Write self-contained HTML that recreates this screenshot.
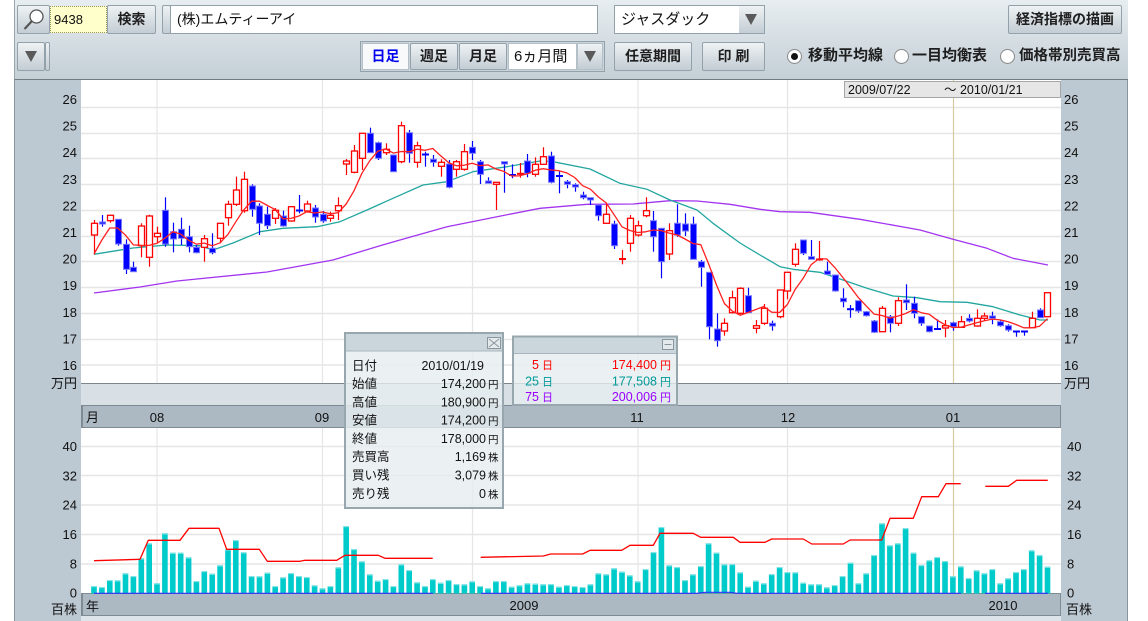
<!DOCTYPE html>
<html><head><meta charset="utf-8">
<style>
html,body{margin:0;padding:0;background:#fff;width:1148px;height:621px;overflow:hidden;position:relative;font-family:"Liberation Sans","Noto Sans CJK JP",sans-serif;}
.a{position:absolute;box-sizing:border-box;}
.btn{position:absolute;box-sizing:border-box;height:29px;border:1px solid #93a1aa;border-radius:2px;background:linear-gradient(#eef2f4,#c3cdd4);font-weight:bold;font-size:14px;color:#1e1e1e;text-align:center;line-height:27px;white-space:nowrap;}
.tri{position:absolute;width:0;height:0;border-left:6px solid transparent;border-right:6px solid transparent;border-top:11px solid #5a5a5a;}
.rad{position:absolute;width:15px;height:15px;border-radius:50%;box-sizing:border-box;border:1px solid #8a8a8a;background:radial-gradient(circle at 50% 40%,#fff 55%,#d8dde0);}
.rl{position:absolute;font-weight:bold;font-size:15px;color:#1e1e1e;line-height:20px;white-space:nowrap;}
</style></head><body>
<div class="a" style="left:14px;top:0;width:1114px;height:80px;background:linear-gradient(#e7edf0,#c4cfd6);border-left:1px solid #9aa6ae;border-bottom:1px solid #6f7b83;"></div>

<div class="btn" style="left:17px;top:5px;width:33px;"><svg width="31" height="27" style="position:absolute;left:0;top:0"><circle cx="18.5" cy="10.5" r="6.5" fill="#fff" stroke="#555" stroke-width="1.3"/><line x1="14" y1="15" x2="6.5" y2="23" stroke="#555" stroke-width="2.2"/></svg></div>
<div class="a" style="left:50px;top:6px;width:57px;height:27px;background:#ffffcc;border:1px dotted #9a9a60;font-size:13px;line-height:25px;padding-left:3px;color:#111;">9438</div>
<div class="btn" style="left:107px;top:5px;width:49px;">検索</div>
<div class="btn" style="left:162px;top:5px;width:9px;"></div>
<div class="a" style="left:170px;top:5px;width:428px;height:29px;background:#fff;border:1px solid #93a1aa;font-size:14px;line-height:27px;padding-left:6px;color:#111;">(株)エムティーアイ</div>

<div class="a" style="left:614px;top:5px;width:151px;height:29px;border:1px solid #93a1aa;background:#fff;"></div>
<div class="a" style="left:615px;top:6px;width:124px;height:27px;font-size:15px;line-height:27px;padding-left:6px;color:#111;">ジャスダック</div>
<div class="a" style="left:739px;top:6px;width:25px;height:27px;background:linear-gradient(#eef2f4,#c3cdd4);"><div class="tri" style="left:6px;top:8px;"></div></div>

<div class="btn" style="left:1008px;top:5px;width:114px;">経済指標の描画</div>

<div class="btn" style="left:17px;top:42px;width:28px;"><div class="tri" style="left:7px;top:8px;"></div></div>
<div class="btn" style="left:45px;top:42px;width:5px;"></div>

<div class="a" style="left:360px;top:41px;width:245px;height:31px;border:1px solid #93a1aa;background:#c9d3d9;"></div>
<div class="a" style="left:362px;top:43px;width:47px;height:27px;background:#f7f9fa;border:1px solid #b4c0c8;color:#0000ee;font-weight:bold;font-size:14px;line-height:25px;text-align:center;">日足</div>
<div class="btn" style="left:410px;top:43px;width:48px;height:27px;line-height:25px;">週足</div>
<div class="btn" style="left:459px;top:43px;width:48px;height:27px;line-height:25px;">月足</div>
<div class="a" style="left:508px;top:43px;width:69px;height:27px;background:#fff;border:1px solid #b4c0c8;font-size:15px;line-height:25px;padding-left:5px;color:#111;">6ヵ月間</div>
<div class="a" style="left:577px;top:43px;width:26px;height:27px;background:linear-gradient(#eef2f4,#c3cdd4);border:1px solid #b4c0c8;"><div class="tri" style="left:6px;top:7px;"></div></div>

<div class="btn" style="left:614px;top:42px;width:78px;">任意期間</div>
<div class="btn" style="left:702px;top:42px;width:63px;">印 刷</div>

<div class="rad" style="left:787px;top:49px;"><div style="position:absolute;left:3px;top:3px;width:7px;height:7px;border-radius:50%;background:#111;"></div></div>
<div class="rl" style="left:808px;top:46px;">移動平均線</div>
<div class="rad" style="left:894px;top:49px;"></div>
<div class="rl" style="left:912px;top:46px;">一目均衡表</div>
<div class="rad" style="left:1000px;top:49px;"></div>
<div class="rl" style="left:1019px;top:46px;font-size:14.5px;">価格帯別売買高</div>

<svg width="1148" height="621" style="position:absolute;left:0;top:0" font-family="'Liberation Sans','Noto Sans CJK JP',sans-serif">
<rect x="14" y="80" width="67" height="541" fill="#bdc9d2"/>
<line x1="14.5" y1="80" x2="14.5" y2="621" stroke="#8a969e"/>
<rect x="1061" y="80" width="67" height="541" fill="#bdc9d2"/>
<line x1="1127.5" y1="80" x2="1127.5" y2="621" stroke="#8a969e"/>
<rect x="81" y="80" width="980" height="303" fill="#fff"/>
<rect x="81" y="383" width="980" height="23" fill="#d8e0e6"/>
<line x1="81" y1="383.5" x2="1061" y2="383.5" stroke="#7d868c"/>
<rect x="81.5" y="405.5" width="979" height="22" fill="#acb9c3" stroke="#7f8b93"/>
<line x1="82" y1="406" x2="82" y2="427" stroke="#7f8b93" stroke-width="2"/>
<rect x="81" y="428" width="980" height="165.5" fill="#fff"/>
<rect x="81.5" y="593.5" width="979" height="22" fill="#acb9c3" stroke="#7f8b93"/>
<line x1="82" y1="594" x2="82" y2="615" stroke="#7f8b93" stroke-width="2"/>
<rect x="81" y="616" width="980" height="5" fill="#dde5ea"/>

<path d="M81 107.5H1061M81 133.5H1061M81 158.5H1061M81 184.5H1061M81 210.5H1061M81 236.5H1061M81 261.5H1061M81 287.5H1061M81 313.5H1061M81 339.5H1061M81 365H1061M81 446.5H1061M81 475.5H1061M81 505H1061M81 534.5H1061M81 564H1061" stroke="#e6e6e6" stroke-width="1.5" fill="none"/>
<path d="M157 80V383M322.5 80V383M472.5 80V383M638 80V383M787.5 80V383M157 428V593M322.5 428V593M472.5 428V593M638 428V593M787.5 428V593" stroke="#e6e6e6" stroke-width="1.2" fill="none"/>
<path d="M953.5 80V383M953.5 428V593" stroke="#d6cba0" stroke-width="1.2" fill="none"/>

<g id="dyn"></g>

<rect x="844.5" y="81.5" width="216" height="16" fill="#e6e6e6" stroke="#a6a6a6"/>
<text x="848" y="94" font-size="12.5" fill="#111">2009/07/22</text>
<text x="944" y="94" font-size="12.5" fill="#111">～ 2010/01/21</text>

<g font-size="13" fill="#111" text-anchor="end">
<text x="77" y="104">26</text><text x="77" y="130.6">25</text><text x="77" y="157.2">24</text><text x="77" y="183.8">23</text><text x="77" y="210.4">22</text><text x="77" y="237">21</text><text x="77" y="263.6">20</text><text x="77" y="290.2">19</text><text x="77" y="316.8">18</text><text x="77" y="343.4">17</text><text x="77" y="370">16</text>
<text x="77" y="388">万円</text>
<text x="77" y="451">40</text><text x="77" y="480.3">32</text><text x="77" y="509.6">24</text><text x="77" y="539">16</text><text x="77" y="568.3">8</text><text x="77" y="597.7">0</text>
<text x="77" y="614">百株</text>
</g>
<g font-size="13" fill="#111">
<text x="1064" y="104">26</text><text x="1064" y="130.6">25</text><text x="1064" y="157.2">24</text><text x="1064" y="183.8">23</text><text x="1064" y="210.4">22</text><text x="1064" y="237">21</text><text x="1064" y="263.6">20</text><text x="1064" y="290.2">19</text><text x="1064" y="316.8">18</text><text x="1064" y="343.4">17</text><text x="1064" y="370">16</text>
<text x="1064" y="388">万円</text>
<text x="1067" y="451">40</text><text x="1067" y="480.3">32</text><text x="1067" y="509.6">24</text><text x="1067" y="539">16</text><text x="1067" y="568.3">8</text><text x="1067" y="597.7">0</text>
<text x="1066" y="614">百株</text>
</g>
<g font-size="13" fill="#111">
<text x="86" y="422">月</text>
<text x="157" y="422" text-anchor="middle">08</text>
<text x="322" y="422" text-anchor="middle">09</text>
<text x="637" y="422" text-anchor="middle">11</text>
<text x="788" y="422" text-anchor="middle">12</text>
<text x="953" y="422" text-anchor="middle">01</text>
<text x="86" y="611">年</text>
<text x="524" y="610" text-anchor="middle">2009</text>
<text x="1003" y="610" text-anchor="middle">2010</text>
</g>

<!-- tooltip 1 -->
<rect x="345" y="333" width="158" height="175" fill="rgba(230,237,240,0.8)" stroke="#98a6ae" stroke-width="2"/>
<rect x="346" y="334" width="156" height="17" fill="rgba(200,211,217,0.9)"/>
<line x1="346" y1="351" x2="502" y2="351" stroke="#aab6bd"/>
<rect x="487.5" y="337.5" width="13" height="11" fill="#e4e9ec" stroke="#8a969e"/>
<path d="M489 339L499 347M499 339L489 347" stroke="#8a969e"/>
<g font-size="12.5" fill="#111">
<text x="352" y="370.2">日付</text><text x="352" y="387.8">始値</text><text x="352" y="406.5">高値</text><text x="352" y="424.5">安値</text><text x="352" y="442.8">終値</text><text x="352" y="461.2">売買高</text><text x="352" y="479.5">買い残</text><text x="352" y="497.8">売り残</text>
</g>
<g font-size="12.5" fill="#111" text-anchor="end">
<text x="484" y="370.2">2010/01/19</text>
<text x="486" y="387.8">174,200</text><text x="486" y="406.5">180,900</text><text x="486" y="424.5">174,200</text><text x="486" y="442.8">178,000</text>
<text x="486" y="461.2">1,169</text><text x="486" y="479.5">3,079</text><text x="486" y="497.8">0</text>
</g>
<g font-size="10.5" fill="#111">
<text x="488" y="387.8">円</text><text x="488" y="406.5">円</text><text x="488" y="424.5">円</text><text x="488" y="442.8">円</text>
<text x="488" y="461.2">株</text><text x="488" y="479.5">株</text><text x="488" y="497.8">株</text>
</g>

<!-- tooltip 2 -->
<rect x="513" y="336.5" width="164" height="68.5" fill="rgba(230,237,240,0.8)" stroke="#98a6ae" stroke-width="2"/>
<rect x="514" y="337.5" width="162" height="16" fill="rgba(200,211,217,0.9)"/>
<line x1="514" y1="353.5" x2="676" y2="353.5" stroke="#aab6bd"/>
<rect x="662.5" y="339.5" width="11" height="10" fill="#e4e9ec" stroke="#8a969e"/>
<line x1="664.5" y1="344.5" x2="671.5" y2="344.5" stroke="#8a969e"/>
<g font-size="12.5" text-anchor="end">
<text x="539" y="368.8" fill="#ff0000">5</text><text x="539" y="385.5" fill="#009999">25</text><text x="539" y="401.2" fill="#9900ff">75</text>
<text x="657" y="368.8" fill="#ff0000">174,400</text><text x="657" y="385.5" fill="#009999">177,508</text><text x="657" y="401.2" fill="#9900ff">200,006</text>
</g>
<g font-size="11">
<text x="542" y="368.8" fill="#ff0000">日</text><text x="542" y="385.5" fill="#009999">日</text><text x="542" y="401.2" fill="#9900ff">日</text>
<text x="660" y="368.8" fill="#ff0000">円</text><text x="660" y="385.5" fill="#009999">円</text><text x="660" y="401.2" fill="#9900ff">円</text>
</g>
</svg>

<script>
(function(){
const NS='http://www.w3.org/2000/svg';
const g=document.getElementById('dyn');
function el(t,a){const e=document.createElementNS(NS,t);for(const k in a)e.setAttribute(k,a[k]);g.appendChild(e);return e;}
const X=i=>94+7.88*i;
const C=[
[1,223.3,235,220,254.3],[0,222,224,215,226.7],[1,215.3,220.7,214.7,222.7],[0,219.3,244,219.3,245.7],[0,244.3,269.3,239.3,274],
[0,267.3,271.7,261.7,271.7],[1,226,245.7,223.3,257.3],[1,216,257.3,214.7,266.7],[1,233.3,236.7,226.7,242.7],[0,210.3,244,197.3,246.7],
[0,231.7,239,222.7,252.3],[0,229.3,238.3,217.7,245],[0,236.7,246.7,225.7,252.3],[0,247.3,252.7,245,253.3],[1,238.7,247.3,235,261.7],
[0,248.3,252.7,233.3,254.3],[1,223.3,238.3,223.3,243.3],[1,204.3,217.7,200.7,225.7],[1,190,204.3,176.7,206],[1,179.3,210.7,171.7,212.7],
[0,186,209.3,184.3,216.7],[0,206,223.3,203.3,235],[0,214.3,225.7,206.7,229],[1,210.3,218.3,208,224],[0,216,226,210.7,226.7],
[1,206.7,221,206,221.7],[0,210,211.5,195,213.3],[1,204,211,200.7,212.7],[0,208,217,205,222.7],[0,214.3,221,211,222.7],
[1,215.3,218.3,211.7,221.7],[1,205.7,210.7,197.3,220],[1,161,164,159,175],[1,151,172.3,145,173.3],[1,133.3,158.3,133.3,170],
[0,133.3,152.7,127.7,152.7],[0,142.7,158.3,141.7,160],[1,149.3,152.7,143.3,155],[0,155,171.7,155,171.7],[1,125.7,161.7,121.7,163.3],
[0,132.7,153.3,130,162.7],[1,145.7,162.3,141.7,167.7],[0,154,155.3,151.7,166.7],[0,159.3,162.3,155,166.7],[1,162.3,166.3,159.3,176.7],
[0,164,187.3,160,188.3],[1,161.7,169.3,160,176.7],[1,151.7,169.3,144,170.7],[0,147.3,153.3,141,160],[0,161.7,174.3,160,184],
[0,181,183.3,177.3,183.3],[1,182.3,184.3,182.3,210],[0,161.7,164,161.7,192.7],[0,174.5,176,164.3,178.3],[1,173.3,175,163,177.7],
[0,161,173.3,154,177.3],[1,164.3,174.3,157.3,176.7],[1,156.7,164.3,147.3,165],[0,156,182.3,151.7,183.3],[0,175.5,177,171,193.3],
[0,181.7,184.3,180,188.3],[0,184.7,187,183.3,191.7],[0,195,197.7,191.7,199.3],[0,197.7,200,197.7,205],[0,205,215.7,205,220.7],
[1,214.3,223.3,204.3,223.3],[0,224,245.7,220.7,249],[1,258.5,260,250,264.3],[1,218.3,243.3,215,251.7],[1,225.7,235,220.7,236.7],
[1,210.7,215.7,197.3,217.3],[0,220.7,236.7,211,251.7],[0,228.3,261.7,228.3,278.3],[1,230.7,254,223.3,260],[0,223.3,235,204.3,236.7],
[0,224,231,213.3,236],[0,224,259.3,216.7,259.3],[0,261.7,267.3,260,286.7],[0,272.3,326.7,272.3,339.3],[0,329,340.7,313.3,346.7],
[1,323.3,331,318.3,335.7],[1,297.7,312.7,290.7,313.3],[1,288.3,313.3,287.3,314.3],[0,295.7,312.7,287.7,312.7],[1,325.7,328.3,320,333.3],
[1,308.3,323.3,304,325],[0,323.3,326,320.7,330.7],[1,290,316.7,290,318.3],[1,272.3,291,272.3,299.3],[1,249.3,264.3,243.3,266.7],
[0,240,253.3,240,255],[0,256.7,259.3,240,259.3],[1,259,260.7,241,260.7],[0,271,274.3,261.7,275],[0,275,291,275,291.7],
[0,298.3,301.7,288.3,307.3],[0,308.7,310,305,317.7],[0,300.7,311,300.7,312.7],[0,311.7,315.7,311,316.5],[0,321,332.3,320,333],
[1,308.3,331.7,306,331.7],[0,316.7,323.3,315,332.3],[1,300.7,323.3,297.3,326],[0,300,302.7,284.3,310],[0,303.3,313.3,296.7,318.3],
[0,316.7,323.3,316.7,325.7],[0,326,331.7,325.7,332.3],[0,328.5,330,319.3,330],[1,325.7,328,320,337.3],[0,322.7,326.7,321.7,330.7],
[1,321.7,327.3,316,327.3],[0,318.3,321,314.3,322.3],[1,318.3,326,309.3,326.7],[1,316,318.3,312.7,321],[0,316,318.3,311.7,324.3],
[0,321.7,325.7,320,326.7],[0,325.7,330,324.3,331.7],[0,331,332.5,331,336.7],[0,331,332.5,331,335.7],[1,318.3,327.7,311.7,327.7],
[0,310,317.7,308.3,318],[1,292.7,316.7,292.7,316.7]];
const V=[586,587,580,580.3,573.3,576,558.3,543.3,583.3,533.3,
552.7,552.7,557.3,581,571,573.7,565.3,549.3,540,552.3,
576,576.3,572.7,586,577.3,573,576,577,585.3,588.3,
586,567.3,526,549,561.3,574.3,580.7,579,586,564.3,
570,582.3,586,579,582.7,580,584,584.3,581.3,586,
588.3,581,581,586.7,585.3,583.3,583.7,584.3,584,586.7,
585,586,587,584.3,573.3,574.3,568.3,571.7,575.3,581.3,
569,552,527,565.3,567,580,574.3,566,543.3,552.7,
564.3,564,572.3,586.7,580.7,583.3,574,567,572,572.3,
582.7,584.3,584.3,587.3,585,576,562.7,583.3,573.3,555,
523.3,545.3,543.3,528,552.7,565,560.3,557,561,576.3,
566.3,578,570.3,573.3,569,583.3,578.3,572,569,550.3,
555,566.7];
// volume bars
V.forEach((y,i)=>{const x=X(i)-2.8;el('rect',{x:x.toFixed(1),y:y,width:5.6,height:(593.5-y).toFixed(1),fill:'#00cbcb'});el('rect',{x:x.toFixed(1),y:y,width:5.6,height:1.2,fill:'#80e4e4'});});
function pl(pts,col,w){el('polyline',{points:pts.map(p=>p[0]+','+p[1]).join(' '),fill:'none',stroke:col,'stroke-width':w,'stroke-linejoin':'round'});}
// volume baseline (blue) & margin line (red)
pl([[94,593.3],[433,593.3]],'#3030ff',1.2);
pl([[481,593.3],[697,593.3],[705,592.3],[730,592.3],[737,593.3],[961,593.3]],'#3030ff',1.2);
pl([[985,593.3],[1048,593.3]],'#3030ff',1.2);
pl([[94,560.7],[140,559.3],[148.3,540.3],[180,540.3],[189,528.3],[219,528.3],[226.7,549.3],[259.3,549.3],[267.3,561.3],[300,561.3],[305,560.3],[336.7,560.3],[345,555.3],[378.3,555.3],[385,558.3],[432.7,558.3]],'#ff0000',1.3);
pl([[480.7,557.3],[543.3,556],[550.7,554],[582.7,554],[590,550.3],[621.7,550.3],[630,545.3],[653.3,545.3],[660,533.3],[693.3,533.3],[700.7,537.3],[733.3,537.3],[740,542.3],[765,542.3],[771.7,539],[803.3,539],[811.7,544],[843.3,544],[850,540],[881.7,540],[890,518.3],[913.3,518.3],[921.7,496.7],[938.3,496.7],[946,483.7],[960.7,483.7]],'#ff0000',1.3);
pl([[985.3,486.3],[1008.3,486.3],[1016.7,480.3],[1047.7,480.3]],'#ff0000',1.3);
// 75 MA
pl([[94,293],[140,287],[177,281],[267,272],[333,260],[380,245.7],[400,240],[447,226.7],[497,216.7],[540,208.3],[587,204.3],[633,204],[670,200.7],[697,201],[730,204.3],[760,209.3],[780,211.7],[810,212.3],[860,219.3],[920,230],[953,239.3],[987,248.3],[1013,258.3],[1048,265]],'#a335f0',1.3);
// 25 MA
pl([[94,254.3],[133,248],[167,245],[200,245.7],[213,250],[233,243],[260,231.7],[283,228.3],[317,226.7],[340,221.7],[367,210],[393,198.3],[423,185],[447,181.7],[473,171.7],[507,166.7],[540,161],[553,161.7],[590,169],[620,183.3],[647,189.3],[670,200],[697,210],[713,223.3],[740,243],[760,255],[780,266.7],[793,269.3],[820,272.3],[843,280],[867,288.3],[893,296],[917,297.7],[940,301.7],[967,302.3],[993,306.7],[1020,315],[1040,320],[1048,320]],'#22a6a0',1.3);
// candles
C.forEach((c,i)=>{
 const xc=X(i), xl=Math.round(xc)+0.5;
 const red=c[0]===1, col=red?'#ff0000':'#0000ff';
 el('line',{x1:xl,y1:c[3],x2:xl,y2:c[4],stroke:col,'stroke-width':1.2});
 const h=c[2]-c[1];
 if(h<2){el('line',{x1:xl-3.5,y1:c[1]+0.5,x2:xl+3.5,y2:c[1]+0.5,stroke:col,'stroke-width':2});}
 else if(red){el('rect',{x:xl-3,y:c[1],width:6,height:h,fill:'#fff',stroke:col,'stroke-width':1.3});}
 else{el('rect',{x:xl-3,y:c[1],width:6,height:h,fill:'#0000ff',stroke:'#7a7aff','stroke-width':1});}
});
// 5 MA
const cl=C.map(c=>c[0]?c[1]:c[2]);
const pre=[254,240,228,228];
const m5=cl.map((v,i)=>{if(i<4)return [X(i),pre[i]];let s=0;for(let k=i-4;k<=i;k++)s+=cl[k];return [X(i).toFixed(1),(s/5).toFixed(1)];});
pl(m5,'#ff2020',1.3);
})();
</script>
</body></html>
